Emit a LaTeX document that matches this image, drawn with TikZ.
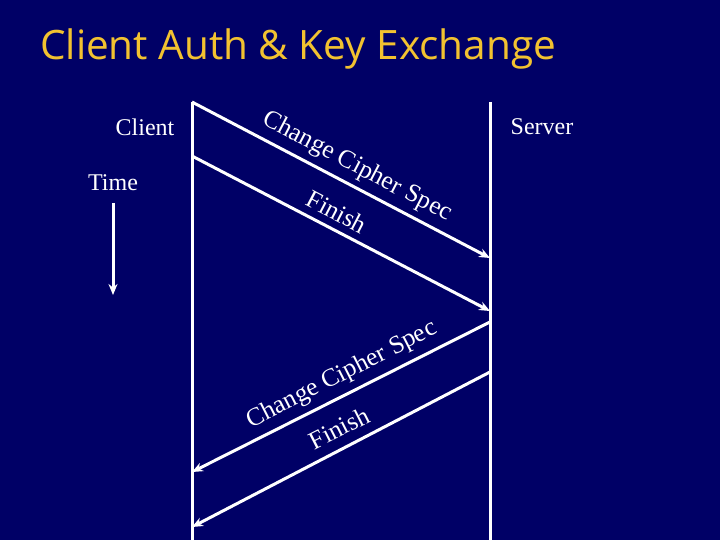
\documentclass[tikz,border=0pt]{standalone}
\usepackage{fontspec}
\setmainfont{Liberation Serif}
\newfontfamily\titlefont{Open Sans}
\usetikzlibrary{arrows.meta}
\definecolor{navybg}{RGB}{0,0,102}
\definecolor{titleyellow}{RGB}{242,194,48}
\tikzset{
  lifeline/.style={draw=white, line width=3pt},
  msg/.style={draw=white, line width=3pt, -{Stealth[length=11pt,width=9pt]}},
  lbl/.style={text=white, font=\fontsize{24}{28}\selectfont, inner sep=0pt},
  msglbl/.style={text=white, font=\fontsize{25.5}{28}\selectfont, inner sep=0pt}
}
\begin{document}
\begin{tikzpicture}[x=1pt,y=-1pt]
\fill[navybg] (0,0) rectangle (720,540);
\useasboundingbox (0,0) rectangle (720,540);
% title
\node[anchor=base west, text=titleyellow, inner sep=0pt, font=\titlefont\fontsize{40.5}{46}\selectfont] (title) at (40,60) {Client Auth \& Key Exchange};
% labels
\node[lbl] (client) at (145,127) {Client};
\node[lbl] (server) at (542,127) {Server};
\node[lbl] (time) at (113,183) {Time};
% time arrow
\coordinate (t0) at (113,203);
\coordinate (t1) at (113,295);
\draw[msg] (t0) -- (t1);
% lifelines
\coordinate (ctop) at (192,102);
\coordinate (cbot) at (192,540);
\coordinate (stop) at (490,102);
\coordinate (sbot) at (490,540);
\draw[lifeline] (ctop) -- (cbot);
\draw[lifeline] (stop) -- (sbot);
% messages
\coordinate (m1s) at (192,102);
\coordinate (m1e) at (490,258);
\coordinate (m2s) at (192,156);
\coordinate (m2e) at (490,311);
\coordinate (m3s) at (490,322);
\coordinate (m3e) at (192,472);
\coordinate (m4s) at (490,372);
\coordinate (m4e) at (192,527);
\draw[msg] (m1s) -- (m1e);
\draw[msg] (m2s) -- (m2e);
\draw[msg] (m3s) -- (m3e);
\draw[msg] (m4s) -- (m4e);
% message labels
\node[msglbl, rotate=-27.6] (l1) at (357,167) {Change Cipher Spec};
\node[msglbl, rotate=-27.6] (l2) at (337,212) {Finish};
\node[msglbl, rotate=27] (l3) at (342,375) {Change Cipher Spec};
\node[msglbl, rotate=27] (l4) at (339,428) {Finish};
\end{tikzpicture}
\end{document}
